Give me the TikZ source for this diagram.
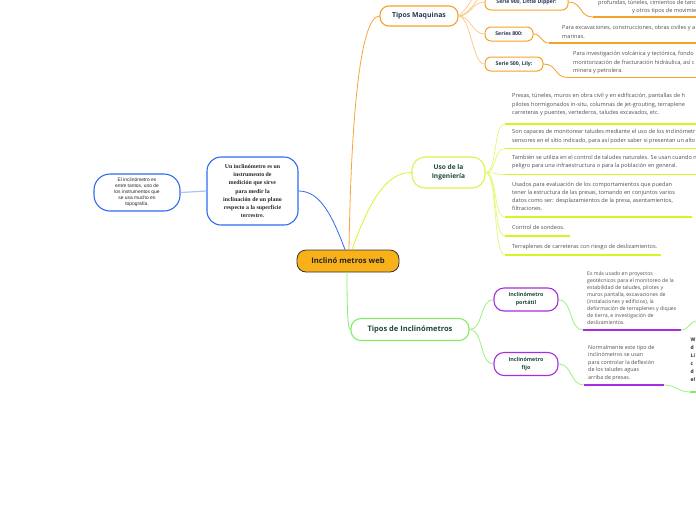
\documentclass[tikz,border=0pt]{standalone}
\usepackage{fontspec}
\setmainfont{Open Sans}
\newfontfamily\serifb{Liberation Serif}
\newfontfamily\arialf{Liberation Sans}
\definecolor{orngB}{HTML}{F6A127}
\definecolor{orngL}{HTML}{FCCB8E}
\definecolor{orngM}{HTML}{F7A33A}
\definecolor{mainF}{HTML}{F9B11A}
\definecolor{blueB}{HTML}{2F6BF2}
\definecolor{blueL}{HTML}{A9C4F7}
\definecolor{ygB}{HTML}{DDF250}
\definecolor{ygL}{HTML}{E6F77E}
\definecolor{ygU}{HTML}{D8F425}
\definecolor{grnB}{HTML}{84EC64}
\definecolor{grnL}{HTML}{9CF07E}
\definecolor{purB}{HTML}{A62DE3}
\definecolor{navyT}{HTML}{263858}
\definecolor{dgreenT}{HTML}{1D4A3A}
\definecolor{leafT}{HTML}{505050}
\begin{document}
\begin{tikzpicture}[x=1pt,y=-1pt,
  every node/.style={inner sep=0pt},
  topicbox/.style={draw, fill=white, line width=1.1pt, rounded corners=#1, align=center},
  leaftext/.style={anchor=north west, align=left, text=leafT, font=\fontsize{5.6}{8.3}\selectfont},
  conn/.style={line width=0.8pt},
  uline/.style={line width=1.8pt}
]
\useasboundingbox (0,0) rectangle (696,520);

% ---------- central ----------
\node[draw=black!80, fill=mainF, line width=0.8pt, rounded corners=9pt, minimum width=102pt, minimum height=22pt,
  font=\fontsize{7.7}{9}\selectfont\bfseries, text=black!85] (main) at (348,261) {Inclinó metros web};

% ---------- blue branch ----------
\node[topicbox=14pt, draw=blueB, minimum width=91pt, minimum height=68pt,
  font=\serifb\bfseries\fontsize{5.9}{8.2}\selectfont, text=black!85] (def) at (252.5,191)
  {Un inclinómetro es un\\instrumento de\\medición que sirve\\para medir la\\inclinación de un plano\\respecto a la superficie\\terrestre.};
\node[topicbox=16pt, draw=blueB, minimum width=86pt, minimum height=37pt,
  font=\arialf\fontsize{4.9}{6}\selectfont, text=black!85] (topo) at (137,192.5)
  {El inclinómetro es\\entre tantos, uno de\\los instrumentos que\\se usa mucho en\\topografía.};
\draw[conn, blueB] ([xshift=-3pt]main.north) .. controls (332,215) and (320,191) .. (def.east);
\draw[conn, blueL, line width=1.2pt] (topo.east) -- (def.west);

% ---------- orange branch ----------
\node[topicbox=9pt, draw=orngB, minimum width=78pt, minimum height=20pt,
  font=\fontsize{6.9}{8}\selectfont\bfseries, text=navyT] (maq) at (419,16) {Tipos Maquinas};
\draw[conn, orngM] ([xshift=1pt]main.north) .. controls (351,120) and (360,16) .. (maq.west);

\tikzset{sernode/.style={topicbox=6pt, draw=orngB, line width=1pt, minimum height=14pt,
  font=\fontsize{5.2}{6}\selectfont\bfseries, text=navyT}}
\node[sernode, minimum width=83pt, minimum height=16pt] (s900) at (526.5,2) {Serie 900, Little Dipper:};
\node[sernode, minimum width=48pt] (s800) at (509,34) {Series 800:};
\node[sernode, minimum width=58pt] (s500) at (514,64) {Serie 500, Lily:};
\coordinate (up1) at (478,-2);
\coordinate (up2) at (472,-2);
\foreach \t in {s900,s800,s500}{
  \draw[conn, orngL] (maq.east) .. controls +(12,0) and +(-12,0) .. (\t.west);}
\draw[conn, orngL] (maq.east) .. controls +(6,0) and +(-2,6) .. (up1);
\draw[conn, orngL] (maq.east) .. controls +(3,-2) and +(-1,5) .. (up2);

\coordinate (o1s) at (593,17); \coordinate (o1e) at (696,17);
\coordinate (o2s) at (549,43); \coordinate (o2e) at (696,43);
\coordinate (o3s) at (568,77.5); \coordinate (o3e) at (696,77.5);
\draw[uline, orngB] (o1s) -- (o1e);
\draw[uline, orngB] (o2s) -- (o2e);
\draw[uline, orngB] (o3s) -- (o3e);
\draw[conn, orngB] (s900.east) .. controls +(14,0) and +(-14,0) .. (o1s);
\draw[conn, orngB] (s800.east) .. controls +(8,0) and +(-8,0) .. (o2s);
\draw[conn, orngB] (s500.east) .. controls +(14,0) and +(-14,0) .. (o3s);
\node[leaftext, anchor=west] (t900a) at (598,3.5) {profundas, túneles, cimientos de tanc};
\node[leaftext, anchor=west] (t900b) at (632,11) {y otros tipos de movimie};
\node[leaftext] (t800) at (562,25.5) {Para excavaciones, construcciones, obras civiles y a\\marinas.};
\node[leaftext] (t500) at (573,51.5) {Para investigación volcánica y tectónica, fondo\\monitorización de fracturación hidráulica, así c\\minera y petrolera.};

% ---------- yellow-green branch ----------
\node[topicbox=13pt, draw=ygB, minimum width=73pt, minimum height=31pt,
  font=\fontsize{6.6}{9.5}\selectfont\bfseries, text=dgreenT] (uso) at (448.5,172.5) {Uso de la\\Ingeniería};
\draw[conn, ygU] ([xshift=4pt]main.north) .. controls (368,205) and (385,172) .. (uso.west);

\coordinate (y1s) at (505,124); \coordinate (y1e) at (696,124);
\coordinate (y2s) at (505,148.5); \coordinate (y2e) at (696,148.5);
\coordinate (y3s) at (505,174.5); \coordinate (y3e) at (696,174.5);
\coordinate (y4s) at (505,217); \coordinate (y4e) at (692,217);
\coordinate (y5s) at (505,236); \coordinate (y5e) at (570,236);
\coordinate (y6s) at (505,255); \coordinate (y6e) at (661,255);
\foreach \s/\e in {y1s/y1e,y2s/y2e,y3s/y3e,y4s/y4e,y5s/y5e,y6s/y6e}{
  \draw[uline, ygU] (\s) -- (\e);
  \draw[conn, ygL] (uso.east) .. controls +(12,0) and +(-12,0) .. (\s);}
\node[leaftext] (y1) at (512,93.5) {Presas, túneles, muros en obra civil y en edificación, pantallas de h\\pilotes hormigonados in-situ, columnas de jet-grouting, terraplene\\carreteras y puentes, vertederos, taludes excavados, etc.};
\node[leaftext] (y2) at (512,129.5) {Son capaces de monitorear taludes mediante el uso de los inclinómetr\\sensores en el sitio indicado, para así poder saber si presentan un alto};
\node[leaftext] (y3) at (512,155) {También se utiliza en el control de taludes naturales. Se usan cuando n\\peligro para una infraestructura o para la población en general.};
\node[leaftext, font=\fontsize{5.6}{7.9}\selectfont] (y4) at (512,182.5) {Usados para evaluación de los comportamientos que puedan\\tener la estructura de las presas, tomando en conjuntos varios\\datos como ser: desplazamientos de la presa, asentamientos,\\filtraciones.};
\node[leaftext] (y5) at (512,225) {Control de sondeos.};
\node[leaftext] (y6) at (512,244) {Terraplenes de carreteras con riesgo de deslizamientos.};

% ---------- green branch ----------
\node[topicbox=10pt, draw=grnB, minimum width=118pt, minimum height=22pt,
  font=\fontsize{7.5}{8}\selectfont\bfseries, text=dgreenT] (tinc) at (410,329.5) {Tipos de Inclinómetros};
\draw[conn, grnB] ([xshift=-1pt]main.south) .. controls (347,315) and (348,329.5) .. (tinc.west);

\tikzset{purnode/.style={topicbox=10pt, draw=purB, minimum width=64pt, minimum height=23pt,
  font=\fontsize{5.4}{8}\selectfont\bfseries, text=dgreenT}}
\node[purnode] (port) at (526,299.5) {Inclinómetro\\portátil};
\node[purnode] (fijo) at (526,364) {Inclinómetro\\fijo};
\draw[conn, grnL] (tinc.east) .. controls +(14,0) and +(-14,0) .. (port.west);
\draw[conn, grnL] (tinc.east) .. controls +(14,0) and +(-14,0) .. (fijo.west);

\coordinate (p1s) at (583,330); \coordinate (p1e) at (681,330);
\coordinate (p2s) at (584,385); \coordinate (p2e) at (664,385);
\draw[uline, purB] (p1s) -- (p1e);
\draw[uline, purB] (p2s) -- (p2e);
\draw[conn, grnL] (port.east) .. controls +(14,0) and +(-14,0) .. (p1s);
\draw[conn, grnL] (fijo.east) .. controls +(14,0) and +(-14,0) .. (p2s);
\coordinate (g1) at (696,321);
\draw[conn, grnL] (p1e) .. controls +(8,0) and +(-6,0) .. (g1);
\coordinate (g2s) at (690,392); \coordinate (g2e) at (696,392);
\draw[conn, grnL] (p2e) .. controls +(12,0) and +(-12,0) .. (g2s);
\draw[uline, grnB] (g2s) -- (g2e);

\node[leaftext, font=\fontsize{5.2}{7}\selectfont] (pt) at (587,271) {Es más usado en proyectos\\geotécnicos para el monitoreo de la\\estabilidad de taludes, pilotes y\\muros pantalla, excavaciones de\\(instalaciones y edificios), la\\deformación de terraplenes y diques\\de tierra, e investigación de\\deslizamientos.};
\node[leaftext, font=\fontsize{5.4}{7.5}\selectfont] (ft) at (588,345) {Normalmente este tipo de\\inclinómetros se usan\\para controlar la deflexión\\de los taludes aguas\\arriba de presas.};
\node[leaftext, font=\fontsize{5}{8}\selectfont\bfseries, text=black!85] (cut) at (690.5,338) {W\\d\\Li\\c\\d\\el};
\end{tikzpicture}
\end{document}
